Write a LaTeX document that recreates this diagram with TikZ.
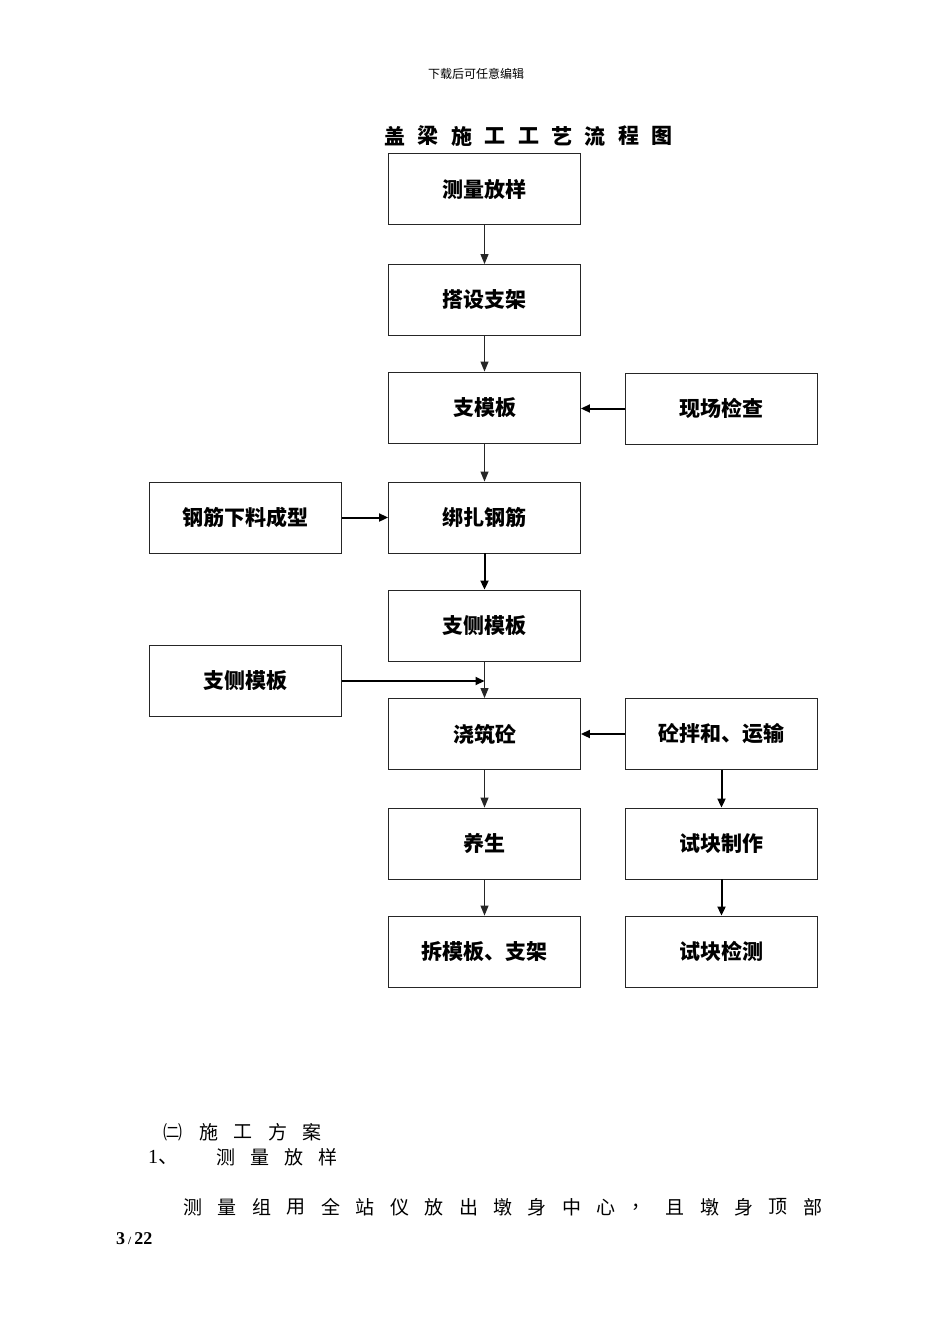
\documentclass[tikz,border=0pt]{standalone}
\usepackage{fontspec}
\setmainfont{Liberation Serif}
\newfontfamily\cjk{Noto Sans CJK SC}
\usetikzlibrary{arrows.meta}
\tikzset{
  box/.style={draw=black!85, line width=0.9pt, minimum width=192pt, minimum height=71pt, inner sep=0pt, font=\cjk\bfseries\fontsize{21}{21}\selectfont},
  thin/.style={draw=black!85, line width=1pt, -{Triangle[length=10pt,width=8pt]}},
  thick/.style={draw=black, line width=2pt, -{Triangle[length=9pt,width=8pt]}},
  body/.style={inner sep=0pt, font=\cjk\fontsize{19}{19}\selectfont}
}
\begin{document}
\begin{tikzpicture}[x=1pt,y=-1pt]
\path[use as bounding box, fill=white] (0,0) rectangle (950,1344);
% header
\node[inner sep=0pt, font=\cjk\fontsize{12}{12}\selectfont] (hdr) at (476,74) {下载后可任意编辑};
% title
\foreach \c [count=\i from 0] in {盖,梁,施,工,工,艺,流,程,图}
  \node[inner sep=0pt, font=\cjk\bfseries\fontsize{21}{21}\selectfont] (t\i) at (395+\i*33.4,136) {\c};
% boxes
\node[box] (a1) at (484.5,189) {测量放样};
\node[box] (a2) at (484.5,300) {搭设支架};
\node[box] (a3) at (484.5,407.5) {支模板};
\node[box] (r1) at (721.5,408.5) {现场检查};
\node[box] (l1) at (245.5,517.5) {钢筋下料成型};
\node[box] (a4) at (484.5,517.5) {绑扎钢筋};
\node[box] (a5) at (484.5,625.5) {支侧模板};
\node[box] (l2) at (245.5,681) {支侧模板};
\node[box] (a6) at (484.5,734) {浇筑砼};
\node[box] (r2) at (721.5,734) {砼拌和、运输};
\node[box] (a7) at (484.5,843.5) {养生};
\node[box] (r3) at (721.5,843.5) {试块制作};
\node[box] (a8) at (484.5,951.5) {拆模板、支架};
\node[box] (r4) at (721.5,951.5) {试块检测};
\coordinate (j) at (484.5,681);
% connectors
\draw[thin] (a1.south) -- (a2.north);
\draw[thin] (a2.south) -- (a3.north);
\draw[thick] (r1.west) -- (a3.east |- r1.west);
\draw[thin] (a3.south) -- (a4.north);
\draw[thick] (l1.east) -- (a4.west);
\draw[thick] (a4.south) -- (a5.north);
\draw[thin] (a5.south) -- (a6.north);
\draw[thick] (l2.east) -- (j);
\draw[thick] (r2.west) -- (a6.east);
\draw[thin] (a6.south) -- (a7.north);
\draw[thin] (a7.south) -- (a8.north);
\draw[thick] (r2.south) -- (r3.north);
\draw[thick] (r3.south) -- (r4.north);
% body text
\node[body] (b0) at (173,1132) {㈡};
\foreach \c [count=\i from 1] in {施,工,方,案}
  \node[body] (b\i) at (174+\i*34.5,1132) {\c};
\node[inner sep=0pt, anchor=west, font=\fontsize{20}{20}\selectfont] (n1) at (148,1157) {1\cjk 、};
\foreach \c [count=\i from 0] in {测,量,放,样}
  \node[body] (c\i) at (226+\i*34,1157) {\c};
\foreach \c [count=\i from 0] in {测,量,组,用,全,站,仪,放,出,墩,身,中,心,，,且,墩,身,顶,部}
  \node[body] (d\i) at (193+\i*34.44,1207) {\c};
\node[inner sep=0pt, anchor=west, font=\bfseries\fontsize{18}{18}\selectfont] (pg) at (116,1239) {3\,{\fontsize{11}{11}\selectfont/}\,22};
\end{tikzpicture}
\end{document}
